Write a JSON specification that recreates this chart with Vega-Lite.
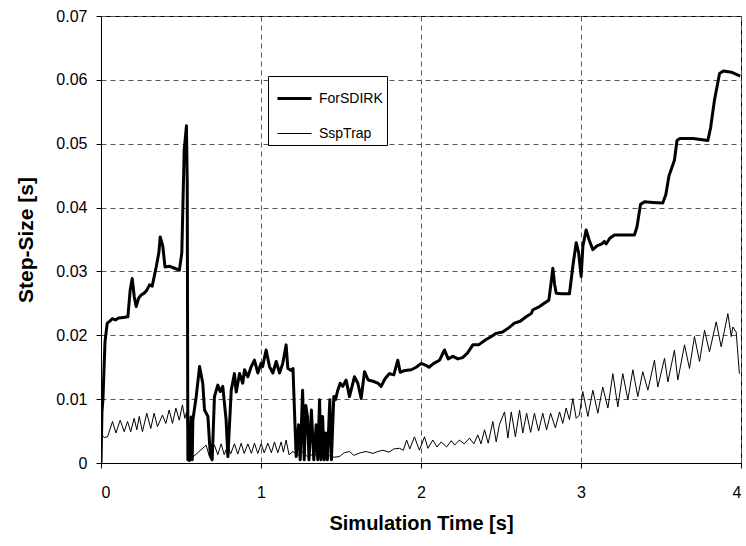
{
  "$schema": "https://vega.github.io/schema/vega-lite/v6.json",
  "autosize": {"type": "none"},
  "padding": {"left": 101, "top": 16, "right": 5, "bottom": 83},
  "width": 640,
  "height": 447,
  "background": "white",
  "config": {
    "font": "Liberation Sans",
    "view": {"stroke": "black", "strokeWidth": 1},
    "axis": {
      "domainColor": "black",
      "tickColor": "black",
      "tickSize": 5,
      "labelColor": "black",
      "titleColor": "black",
      "labelFont": "Liberation Sans",
      "titleFont": "Liberation Sans",
      "labelFontSize": 16,
      "titleFontSize": 20,
      "titleFontWeight": "bold",
      "gridColor": "#555555",
      "gridDash": [5, 4],
      "gridWidth": 1,
      "gridOpacity": 1
    }
  },
  "data": {"values": [
    {"t":0,"s":0,"series":"ForSDIRK"},
    {"t":0.006,"s":0.008,"series":"ForSDIRK"},
    {"t":0.012,"s":0.0099,"series":"ForSDIRK"},
    {"t":0.025,"s":0.019,"series":"ForSDIRK"},
    {"t":0.039,"s":0.0219,"series":"ForSDIRK"},
    {"t":0.055,"s":0.0222,"series":"ForSDIRK"},
    {"t":0.07,"s":0.0226,"series":"ForSDIRK"},
    {"t":0.09,"s":0.0224,"series":"ForSDIRK"},
    {"t":0.11,"s":0.0227,"series":"ForSDIRK"},
    {"t":0.14,"s":0.0228,"series":"ForSDIRK"},
    {"t":0.168,"s":0.0229,"series":"ForSDIRK"},
    {"t":0.182,"s":0.027,"series":"ForSDIRK"},
    {"t":0.195,"s":0.0289,"series":"ForSDIRK"},
    {"t":0.208,"s":0.026,"series":"ForSDIRK"},
    {"t":0.22,"s":0.0245,"series":"ForSDIRK"},
    {"t":0.235,"s":0.0258,"series":"ForSDIRK"},
    {"t":0.251,"s":0.0263,"series":"ForSDIRK"},
    {"t":0.27,"s":0.0266,"series":"ForSDIRK"},
    {"t":0.285,"s":0.027,"series":"ForSDIRK"},
    {"t":0.303,"s":0.0279,"series":"ForSDIRK"},
    {"t":0.32,"s":0.0277,"series":"ForSDIRK"},
    {"t":0.345,"s":0.0307,"series":"ForSDIRK"},
    {"t":0.362,"s":0.033,"series":"ForSDIRK"},
    {"t":0.37,"s":0.0354,"series":"ForSDIRK"},
    {"t":0.386,"s":0.034,"series":"ForSDIRK"},
    {"t":0.4,"s":0.0307,"series":"ForSDIRK"},
    {"t":0.43,"s":0.0308,"series":"ForSDIRK"},
    {"t":0.46,"s":0.0305,"series":"ForSDIRK"},
    {"t":0.49,"s":0.0302,"series":"ForSDIRK"},
    {"t":0.505,"s":0.0329,"series":"ForSDIRK"},
    {"t":0.52,"s":0.049,"series":"ForSDIRK"},
    {"t":0.534,"s":0.0528,"series":"ForSDIRK"},
    {"t":0.539,"s":0.0438,"series":"ForSDIRK"},
    {"t":0.543,"s":0.0005,"series":"ForSDIRK"},
    {"t":0.553,"s":0.0004,"series":"ForSDIRK"},
    {"t":0.563,"s":0.0072,"series":"ForSDIRK"},
    {"t":0.57,"s":0.0005,"series":"ForSDIRK"},
    {"t":0.574,"s":0.0067,"series":"ForSDIRK"},
    {"t":0.595,"s":0.0104,"series":"ForSDIRK"},
    {"t":0.616,"s":0.0151,"series":"ForSDIRK"},
    {"t":0.636,"s":0.0125,"series":"ForSDIRK"},
    {"t":0.647,"s":0.0083,"series":"ForSDIRK"},
    {"t":0.668,"s":0.0073,"series":"ForSDIRK"},
    {"t":0.684,"s":0.001,"series":"ForSDIRK"},
    {"t":0.695,"s":0.0005,"series":"ForSDIRK"},
    {"t":0.709,"s":0.0104,"series":"ForSDIRK"},
    {"t":0.73,"s":0.0122,"series":"ForSDIRK"},
    {"t":0.745,"s":0.0112,"series":"ForSDIRK"},
    {"t":0.761,"s":0.012,"series":"ForSDIRK"},
    {"t":0.782,"s":0.0067,"series":"ForSDIRK"},
    {"t":0.793,"s":0.001,"series":"ForSDIRK"},
    {"t":0.814,"s":0.0114,"series":"ForSDIRK"},
    {"t":0.834,"s":0.014,"series":"ForSDIRK"},
    {"t":0.845,"s":0.0111,"series":"ForSDIRK"},
    {"t":0.866,"s":0.014,"series":"ForSDIRK"},
    {"t":0.886,"s":0.0125,"series":"ForSDIRK"},
    {"t":0.897,"s":0.0146,"series":"ForSDIRK"},
    {"t":0.918,"s":0.0135,"series":"ForSDIRK"},
    {"t":0.939,"s":0.0151,"series":"ForSDIRK"},
    {"t":0.959,"s":0.0161,"series":"ForSDIRK"},
    {"t":0.98,"s":0.0141,"series":"ForSDIRK"},
    {"t":1.0,"s":0.0156,"series":"ForSDIRK"},
    {"t":1.01,"s":0.0151,"series":"ForSDIRK"},
    {"t":1.032,"s":0.0177,"series":"ForSDIRK"},
    {"t":1.053,"s":0.0151,"series":"ForSDIRK"},
    {"t":1.074,"s":0.0141,"series":"ForSDIRK"},
    {"t":1.095,"s":0.0159,"series":"ForSDIRK"},
    {"t":1.116,"s":0.0141,"series":"ForSDIRK"},
    {"t":1.136,"s":0.0156,"series":"ForSDIRK"},
    {"t":1.157,"s":0.0185,"series":"ForSDIRK"},
    {"t":1.168,"s":0.0148,"series":"ForSDIRK"},
    {"t":1.19,"s":0.0145,"series":"ForSDIRK"},
    {"t":1.2,"s":0.0148,"series":"ForSDIRK"},
    {"t":1.209,"s":0.0083,"series":"ForSDIRK"},
    {"t":1.22,"s":0.001,"series":"ForSDIRK"},
    {"t":1.235,"s":0.006,"series":"ForSDIRK"},
    {"t":1.245,"s":0.0005,"series":"ForSDIRK"},
    {"t":1.26,"s":0.0114,"series":"ForSDIRK"},
    {"t":1.27,"s":0.0005,"series":"ForSDIRK"},
    {"t":1.28,"s":0.009,"series":"ForSDIRK"},
    {"t":1.29,"s":0.0073,"series":"ForSDIRK"},
    {"t":1.3,"s":0.0005,"series":"ForSDIRK"},
    {"t":1.315,"s":0.0083,"series":"ForSDIRK"},
    {"t":1.33,"s":0.0005,"series":"ForSDIRK"},
    {"t":1.345,"s":0.006,"series":"ForSDIRK"},
    {"t":1.355,"s":0.0005,"series":"ForSDIRK"},
    {"t":1.366,"s":0.0099,"series":"ForSDIRK"},
    {"t":1.375,"s":0.0005,"series":"ForSDIRK"},
    {"t":1.385,"s":0.0073,"series":"ForSDIRK"},
    {"t":1.395,"s":0.0005,"series":"ForSDIRK"},
    {"t":1.405,"s":0.0047,"series":"ForSDIRK"},
    {"t":1.415,"s":0.0005,"series":"ForSDIRK"},
    {"t":1.43,"s":0.0099,"series":"ForSDIRK"},
    {"t":1.44,"s":0.0005,"series":"ForSDIRK"},
    {"t":1.455,"s":0.0104,"series":"ForSDIRK"},
    {"t":1.465,"s":0.0099,"series":"ForSDIRK"},
    {"t":1.48,"s":0.0114,"series":"ForSDIRK"},
    {"t":1.495,"s":0.0125,"series":"ForSDIRK"},
    {"t":1.511,"s":0.012,"series":"ForSDIRK"},
    {"t":1.532,"s":0.013,"series":"ForSDIRK"},
    {"t":1.553,"s":0.0104,"series":"ForSDIRK"},
    {"t":1.584,"s":0.0135,"series":"ForSDIRK"},
    {"t":1.605,"s":0.0125,"series":"ForSDIRK"},
    {"t":1.626,"s":0.0101,"series":"ForSDIRK"},
    {"t":1.647,"s":0.0143,"series":"ForSDIRK"},
    {"t":1.67,"s":0.013,"series":"ForSDIRK"},
    {"t":1.7,"s":0.0128,"series":"ForSDIRK"},
    {"t":1.73,"s":0.0125,"series":"ForSDIRK"},
    {"t":1.751,"s":0.012,"series":"ForSDIRK"},
    {"t":1.775,"s":0.0132,"series":"ForSDIRK"},
    {"t":1.803,"s":0.014,"series":"ForSDIRK"},
    {"t":1.83,"s":0.0138,"series":"ForSDIRK"},
    {"t":1.855,"s":0.0161,"series":"ForSDIRK"},
    {"t":1.87,"s":0.0142,"series":"ForSDIRK"},
    {"t":1.9,"s":0.0145,"series":"ForSDIRK"},
    {"t":1.939,"s":0.0146,"series":"ForSDIRK"},
    {"t":1.97,"s":0.015,"series":"ForSDIRK"},
    {"t":2.001,"s":0.0156,"series":"ForSDIRK"},
    {"t":2.03,"s":0.0153,"series":"ForSDIRK"},
    {"t":2.05,"s":0.015,"series":"ForSDIRK"},
    {"t":2.08,"s":0.0156,"series":"ForSDIRK"},
    {"t":2.116,"s":0.0161,"series":"ForSDIRK"},
    {"t":2.147,"s":0.0177,"series":"ForSDIRK"},
    {"t":2.17,"s":0.0163,"series":"ForSDIRK"},
    {"t":2.2,"s":0.0167,"series":"ForSDIRK"},
    {"t":2.23,"s":0.0163,"series":"ForSDIRK"},
    {"t":2.26,"s":0.0165,"series":"ForSDIRK"},
    {"t":2.29,"s":0.0172,"series":"ForSDIRK"},
    {"t":2.324,"s":0.0185,"series":"ForSDIRK"},
    {"t":2.36,"s":0.0185,"series":"ForSDIRK"},
    {"t":2.404,"s":0.0193,"series":"ForSDIRK"},
    {"t":2.44,"s":0.0198,"series":"ForSDIRK"},
    {"t":2.47,"s":0.0203,"series":"ForSDIRK"},
    {"t":2.51,"s":0.0205,"series":"ForSDIRK"},
    {"t":2.55,"s":0.0212,"series":"ForSDIRK"},
    {"t":2.584,"s":0.0219,"series":"ForSDIRK"},
    {"t":2.62,"s":0.0222,"series":"ForSDIRK"},
    {"t":2.657,"s":0.0229,"series":"ForSDIRK"},
    {"t":2.689,"s":0.0234,"series":"ForSDIRK"},
    {"t":2.7,"s":0.024,"series":"ForSDIRK"},
    {"t":2.741,"s":0.0245,"series":"ForSDIRK"},
    {"t":2.77,"s":0.025,"series":"ForSDIRK"},
    {"t":2.799,"s":0.0255,"series":"ForSDIRK"},
    {"t":2.812,"s":0.028,"series":"ForSDIRK"},
    {"t":2.824,"s":0.0305,"series":"ForSDIRK"},
    {"t":2.835,"s":0.028,"series":"ForSDIRK"},
    {"t":2.845,"s":0.0266,"series":"ForSDIRK"},
    {"t":2.88,"s":0.0265,"series":"ForSDIRK"},
    {"t":2.928,"s":0.0265,"series":"ForSDIRK"},
    {"t":2.95,"s":0.031,"series":"ForSDIRK"},
    {"t":2.97,"s":0.0345,"series":"ForSDIRK"},
    {"t":2.985,"s":0.033,"series":"ForSDIRK"},
    {"t":3.001,"s":0.0292,"series":"ForSDIRK"},
    {"t":3.012,"s":0.034,"series":"ForSDIRK"},
    {"t":3.032,"s":0.0365,"series":"ForSDIRK"},
    {"t":3.05,"s":0.035,"series":"ForSDIRK"},
    {"t":3.074,"s":0.0334,"series":"ForSDIRK"},
    {"t":3.1,"s":0.034,"series":"ForSDIRK"},
    {"t":3.13,"s":0.0343,"series":"ForSDIRK"},
    {"t":3.145,"s":0.0347,"series":"ForSDIRK"},
    {"t":3.157,"s":0.0343,"series":"ForSDIRK"},
    {"t":3.18,"s":0.0352,"series":"ForSDIRK"},
    {"t":3.209,"s":0.0357,"series":"ForSDIRK"},
    {"t":3.27,"s":0.0357,"series":"ForSDIRK"},
    {"t":3.334,"s":0.0357,"series":"ForSDIRK"},
    {"t":3.35,"s":0.037,"series":"ForSDIRK"},
    {"t":3.372,"s":0.0405,"series":"ForSDIRK"},
    {"t":3.397,"s":0.0409,"series":"ForSDIRK"},
    {"t":3.45,"s":0.0408,"series":"ForSDIRK"},
    {"t":3.511,"s":0.0407,"series":"ForSDIRK"},
    {"t":3.53,"s":0.042,"series":"ForSDIRK"},
    {"t":3.55,"s":0.045,"series":"ForSDIRK"},
    {"t":3.584,"s":0.0474,"series":"ForSDIRK"},
    {"t":3.6,"s":0.0505,"series":"ForSDIRK"},
    {"t":3.616,"s":0.0508,"series":"ForSDIRK"},
    {"t":3.7,"s":0.0508,"series":"ForSDIRK"},
    {"t":3.793,"s":0.0505,"series":"ForSDIRK"},
    {"t":3.81,"s":0.0525,"series":"ForSDIRK"},
    {"t":3.834,"s":0.0568,"series":"ForSDIRK"},
    {"t":3.866,"s":0.061,"series":"ForSDIRK"},
    {"t":3.89,"s":0.0614,"series":"ForSDIRK"},
    {"t":3.94,"s":0.0612,"series":"ForSDIRK"},
    {"t":3.995,"s":0.0606,"series":"ForSDIRK"},

    {"t":0.003,"s":0.0045,"series":"SspTrap"},
    {"t":0.02,"s":0.004,"series":"SspTrap"},
    {"t":0.041,"s":0.0041,"series":"SspTrap"},
    {"t":0.072,"s":0.0065,"series":"SspTrap"},
    {"t":0.093,"s":0.0047,"series":"SspTrap"},
    {"t":0.12,"s":0.0067,"series":"SspTrap"},
    {"t":0.145,"s":0.0049,"series":"SspTrap"},
    {"t":0.166,"s":0.0065,"series":"SspTrap"},
    {"t":0.186,"s":0.0049,"series":"SspTrap"},
    {"t":0.207,"s":0.007,"series":"SspTrap"},
    {"t":0.224,"s":0.0052,"series":"SspTrap"},
    {"t":0.239,"s":0.0073,"series":"SspTrap"},
    {"t":0.259,"s":0.0049,"series":"SspTrap"},
    {"t":0.286,"s":0.0078,"series":"SspTrap"},
    {"t":0.311,"s":0.0054,"series":"SspTrap"},
    {"t":0.332,"s":0.0078,"series":"SspTrap"},
    {"t":0.353,"s":0.0057,"series":"SspTrap"},
    {"t":0.384,"s":0.0075,"series":"SspTrap"},
    {"t":0.405,"s":0.0062,"series":"SspTrap"},
    {"t":0.426,"s":0.0083,"series":"SspTrap"},
    {"t":0.447,"s":0.0062,"series":"SspTrap"},
    {"t":0.468,"s":0.0086,"series":"SspTrap"},
    {"t":0.489,"s":0.0067,"series":"SspTrap"},
    {"t":0.509,"s":0.0091,"series":"SspTrap"},
    {"t":0.524,"s":0.007,"series":"SspTrap"},
    {"t":0.535,"s":0.008,"series":"SspTrap"},
    {"t":0.548,"s":0.0005,"series":"SspTrap"},
    {"t":0.564,"s":0.0007,"series":"SspTrap"},
    {"t":0.6,"s":0.0015,"series":"SspTrap"},
    {"t":0.657,"s":0.0028,"series":"SspTrap"},
    {"t":0.675,"s":0.0012,"series":"SspTrap"},
    {"t":0.709,"s":0.0028,"series":"SspTrap"},
    {"t":0.73,"s":0.0013,"series":"SspTrap"},
    {"t":0.751,"s":0.003,"series":"SspTrap"},
    {"t":0.77,"s":0.0013,"series":"SspTrap"},
    {"t":0.793,"s":0.0028,"series":"SspTrap"},
    {"t":0.81,"s":0.0014,"series":"SspTrap"},
    {"t":0.834,"s":0.003,"series":"SspTrap"},
    {"t":0.855,"s":0.0014,"series":"SspTrap"},
    {"t":0.876,"s":0.0031,"series":"SspTrap"},
    {"t":0.895,"s":0.0015,"series":"SspTrap"},
    {"t":0.918,"s":0.003,"series":"SspTrap"},
    {"t":0.94,"s":0.0015,"series":"SspTrap"},
    {"t":0.959,"s":0.0031,"series":"SspTrap"},
    {"t":0.98,"s":0.0015,"series":"SspTrap"},
    {"t":1.001,"s":0.003,"series":"SspTrap"},
    {"t":1.02,"s":0.0016,"series":"SspTrap"},
    {"t":1.043,"s":0.0031,"series":"SspTrap"},
    {"t":1.065,"s":0.0016,"series":"SspTrap"},
    {"t":1.084,"s":0.0033,"series":"SspTrap"},
    {"t":1.105,"s":0.0016,"series":"SspTrap"},
    {"t":1.126,"s":0.0033,"series":"SspTrap"},
    {"t":1.14,"s":0.0017,"series":"SspTrap"},
    {"t":1.157,"s":0.0036,"series":"SspTrap"},
    {"t":1.175,"s":0.0013,"series":"SspTrap"},
    {"t":1.2,"s":0.0018,"series":"SspTrap"},
    {"t":1.23,"s":0.0012,"series":"SspTrap"},
    {"t":1.26,"s":0.0017,"series":"SspTrap"},
    {"t":1.29,"s":0.001,"series":"SspTrap"},
    {"t":1.33,"s":0.0014,"series":"SspTrap"},
    {"t":1.37,"s":0.001,"series":"SspTrap"},
    {"t":1.41,"s":0.0013,"series":"SspTrap"},
    {"t":1.45,"s":0.0009,"series":"SspTrap"},
    {"t":1.49,"s":0.001,"series":"SspTrap"},
    {"t":1.52,"s":0.0016,"series":"SspTrap"},
    {"t":1.553,"s":0.0018,"series":"SspTrap"},
    {"t":1.58,"s":0.0012,"series":"SspTrap"},
    {"t":1.62,"s":0.0016,"series":"SspTrap"},
    {"t":1.657,"s":0.0018,"series":"SspTrap"},
    {"t":1.7,"s":0.0015,"series":"SspTrap"},
    {"t":1.73,"s":0.0018,"series":"SspTrap"},
    {"t":1.761,"s":0.002,"series":"SspTrap"},
    {"t":1.8,"s":0.0017,"series":"SspTrap"},
    {"t":1.83,"s":0.0022,"series":"SspTrap"},
    {"t":1.866,"s":0.0023,"series":"SspTrap"},
    {"t":1.89,"s":0.002,"series":"SspTrap"},
    {"t":1.91,"s":0.0036,"series":"SspTrap"},
    {"t":1.93,"s":0.0022,"series":"SspTrap"},
    {"t":1.959,"s":0.0041,"series":"SspTrap"},
    {"t":1.99,"s":0.002,"series":"SspTrap"},
    {"t":2.022,"s":0.0041,"series":"SspTrap"},
    {"t":2.043,"s":0.0023,"series":"SspTrap"},
    {"t":2.074,"s":0.0036,"series":"SspTrap"},
    {"t":2.1,"s":0.0025,"series":"SspTrap"},
    {"t":2.126,"s":0.0033,"series":"SspTrap"},
    {"t":2.16,"s":0.0025,"series":"SspTrap"},
    {"t":2.189,"s":0.0035,"series":"SspTrap"},
    {"t":2.21,"s":0.0028,"series":"SspTrap"},
    {"t":2.24,"s":0.0036,"series":"SspTrap"},
    {"t":2.27,"s":0.003,"series":"SspTrap"},
    {"t":2.303,"s":0.0039,"series":"SspTrap"},
    {"t":2.33,"s":0.003,"series":"SspTrap"},
    {"t":2.355,"s":0.0044,"series":"SspTrap"},
    {"t":2.375,"s":0.003,"series":"SspTrap"},
    {"t":2.397,"s":0.0052,"series":"SspTrap"},
    {"t":2.42,"s":0.0031,"series":"SspTrap"},
    {"t":2.449,"s":0.0065,"series":"SspTrap"},
    {"t":2.47,"s":0.0033,"series":"SspTrap"},
    {"t":2.49,"s":0.006,"series":"SspTrap"},
    {"t":2.522,"s":0.008,"series":"SspTrap"},
    {"t":2.543,"s":0.0039,"series":"SspTrap"},
    {"t":2.564,"s":0.008,"series":"SspTrap"},
    {"t":2.59,"s":0.0041,"series":"SspTrap"},
    {"t":2.616,"s":0.0083,"series":"SspTrap"},
    {"t":2.636,"s":0.0047,"series":"SspTrap"},
    {"t":2.66,"s":0.0078,"series":"SspTrap"},
    {"t":2.685,"s":0.0048,"series":"SspTrap"},
    {"t":2.709,"s":0.0078,"series":"SspTrap"},
    {"t":2.735,"s":0.005,"series":"SspTrap"},
    {"t":2.761,"s":0.0078,"series":"SspTrap"},
    {"t":2.785,"s":0.0052,"series":"SspTrap"},
    {"t":2.81,"s":0.0078,"series":"SspTrap"},
    {"t":2.84,"s":0.0055,"series":"SspTrap"},
    {"t":2.866,"s":0.008,"series":"SspTrap"},
    {"t":2.886,"s":0.0062,"series":"SspTrap"},
    {"t":2.907,"s":0.0086,"series":"SspTrap"},
    {"t":2.928,"s":0.0068,"series":"SspTrap"},
    {"t":2.949,"s":0.0101,"series":"SspTrap"},
    {"t":2.97,"s":0.007,"series":"SspTrap"},
    {"t":2.99,"s":0.0075,"series":"SspTrap"},
    {"t":3.011,"s":0.0112,"series":"SspTrap"},
    {"t":3.043,"s":0.0073,"series":"SspTrap"},
    {"t":3.074,"s":0.0114,"series":"SspTrap"},
    {"t":3.105,"s":0.0078,"series":"SspTrap"},
    {"t":3.136,"s":0.0119,"series":"SspTrap"},
    {"t":3.168,"s":0.0086,"series":"SspTrap"},
    {"t":3.199,"s":0.014,"series":"SspTrap"},
    {"t":3.23,"s":0.0088,"series":"SspTrap"},
    {"t":3.261,"s":0.014,"series":"SspTrap"},
    {"t":3.293,"s":0.0099,"series":"SspTrap"},
    {"t":3.324,"s":0.0146,"series":"SspTrap"},
    {"t":3.355,"s":0.0104,"series":"SspTrap"},
    {"t":3.386,"s":0.0143,"series":"SspTrap"},
    {"t":3.418,"s":0.0114,"series":"SspTrap"},
    {"t":3.459,"s":0.0161,"series":"SspTrap"},
    {"t":3.48,"s":0.0119,"series":"SspTrap"},
    {"t":3.522,"s":0.0164,"series":"SspTrap"},
    {"t":3.543,"s":0.0127,"series":"SspTrap"},
    {"t":3.584,"s":0.0177,"series":"SspTrap"},
    {"t":3.605,"s":0.013,"series":"SspTrap"},
    {"t":3.647,"s":0.0185,"series":"SspTrap"},
    {"t":3.678,"s":0.0148,"series":"SspTrap"},
    {"t":3.709,"s":0.0198,"series":"SspTrap"},
    {"t":3.741,"s":0.0159,"series":"SspTrap"},
    {"t":3.772,"s":0.0208,"series":"SspTrap"},
    {"t":3.803,"s":0.0174,"series":"SspTrap"},
    {"t":3.845,"s":0.0221,"series":"SspTrap"},
    {"t":3.876,"s":0.0182,"series":"SspTrap"},
    {"t":3.918,"s":0.0234,"series":"SspTrap"},
    {"t":3.939,"s":0.0198,"series":"SspTrap"},
    {"t":3.949,"s":0.0213,"series":"SspTrap"},
    {"t":3.97,"s":0.0205,"series":"SspTrap"},
    {"t":3.99,"s":0.014,"series":"SspTrap"}
  ]},
  "mark": {"type": "line", "color": "black", "strokeJoin": "round", "clip": true},
  "encoding": {
    "x": {
      "field": "t", "type": "quantitative",
      "scale": {"domain": [0, 4], "nice": false},
      "axis": {
        "title": "Simulation Time [s]",
        "values": [0, 1, 2, 3, 4],
        "format": "d",
        "labelPadding": 16,
        "titleBaseline": "middle",
        "titleY": 60
      }
    },
    "y": {
      "field": "s", "type": "quantitative",
      "scale": {"domain": [0, 0.07], "nice": false},
      "axis": {
        "title": "Step-Size [s]",
        "values": [0, 0.01, 0.02, 0.03, 0.04, 0.05, 0.06, 0.07],
        "labelExpr": "datum.value == 0 ? '0' : format(datum.value, '.2f')",
        "labelPadding": 9,
        "titleFontSize": 21,
        "titleBaseline": "middle",
        "titleX": -75
      }
    },
    "strokeWidth": {
      "field": "series", "type": "nominal",
      "scale": {"domain": ["ForSDIRK", "SspTrap"], "range": [3, 1]},
      "legend": {
        "title": null,
        "orient": "none",
        "legendX": 167,
        "legendY": 60,
        "strokeColor": "black",
        "fillColor": "white",
        "padding": 4,
        "rowPadding": 10,
        "symbolType": "stroke",
        "symbolSize": 1156,
        "symbolOffset": 4,
        "symbolStrokeColor": "black",
        "labelFontSize": 14,
        "labelFont": "Liberation Sans",
        "labelColor": "black",
        "labelOffset": 6
      }
    }
  }
}
